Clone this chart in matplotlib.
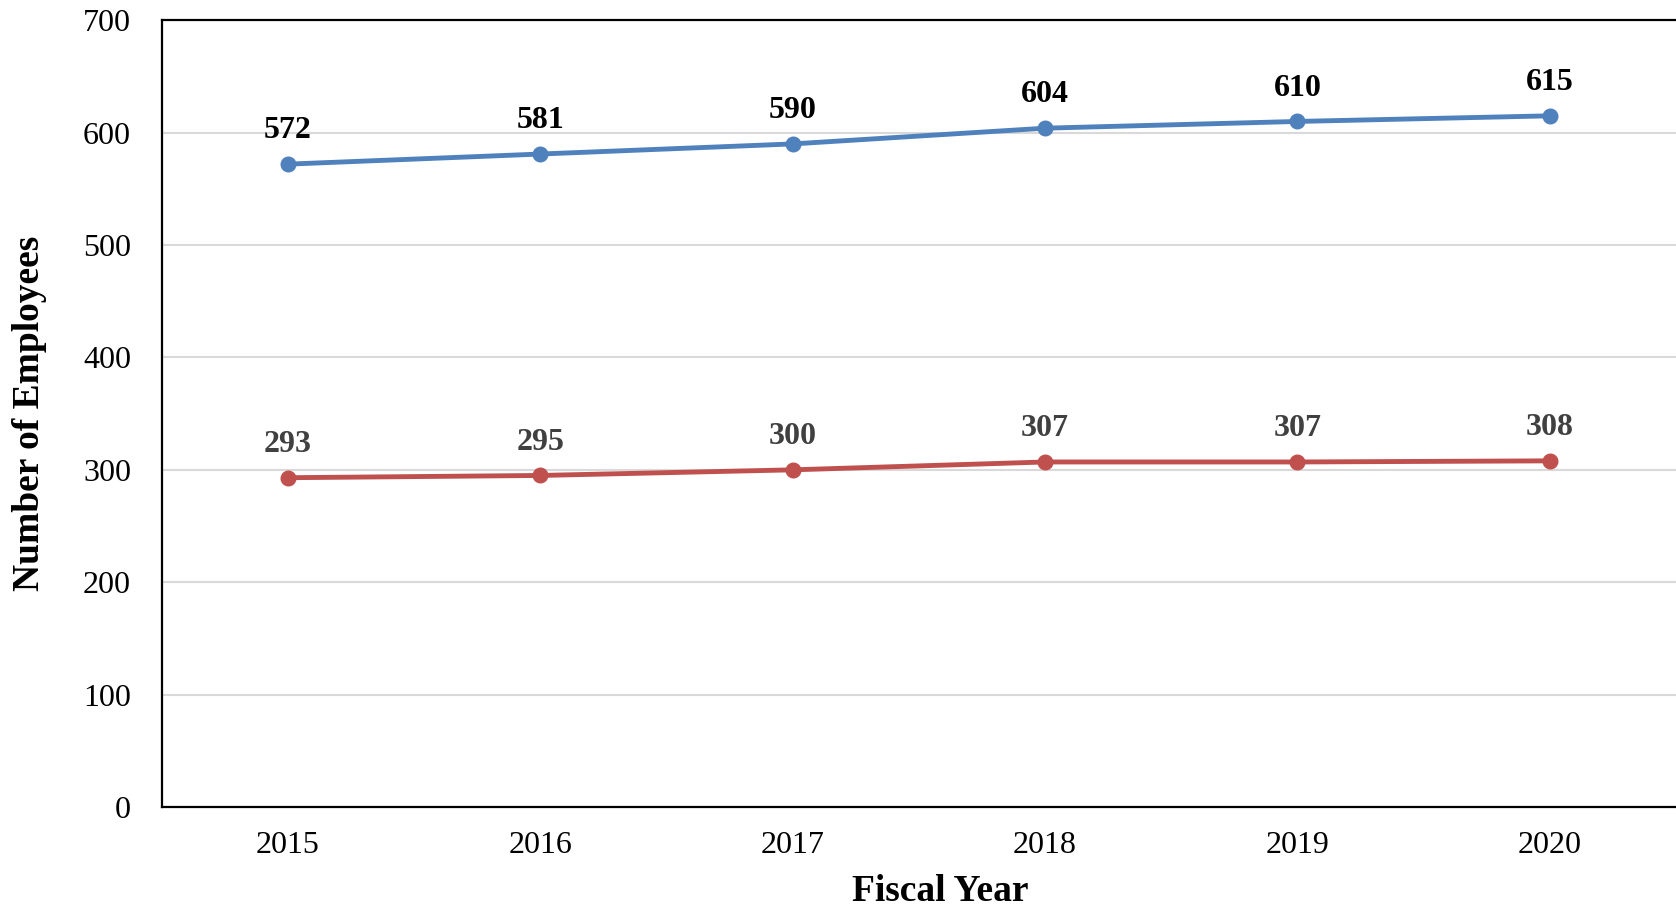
import matplotlib
matplotlib.use("Agg")
import matplotlib.pyplot as plt

years = ["2015", "2016", "2017", "2018", "2019", "2020"]
series_blue = [572, 581, 590, 604, 610, 615]
series_red = [293, 295, 300, 307, 307, 308]

plt.rcParams['font.family'] = ['Liberation Serif', 'DejaVu Serif']

fig = plt.figure(figsize=(16.76, 9.08), dpi=100)
ax = fig.add_axes([161.5/1676, 1-807/908, 1-161.5/1676, (807-20.3)/908])

x = list(range(len(years)))
ax.plot(x, series_blue, color='#4F81BD', lw=3.5, marker='o', ms=10.5, zorder=3, solid_capstyle='round')
ax.plot(x, series_red, color='#C0504D', lw=3.5, marker='o', ms=10.5, zorder=3, solid_capstyle='round')

for xi, v in zip(x, series_blue):
    ax.annotate(str(v), (xi, v), xytext=(0, 24), textcoords='offset points',
                ha='center', va='center', fontsize=23, fontweight='bold', color='black')
for xi, v in zip(x, series_red):
    ax.annotate(str(v), (xi, v), xytext=(0, 24), textcoords='offset points',
                ha='center', va='center', fontsize=23, fontweight='bold', color='#404040')

ax.set_xlim(-0.5, 5.5)
ax.set_ylim(0, 700)
ax.set_yticks(range(0, 701, 100))
ax.set_xticks(x)
ax.set_xticklabels(years)
ax.tick_params(axis='both', length=0, labelsize=23, colors='black')
ax.tick_params(axis='x', pad=17)
ax.tick_params(axis='y', pad=22)
ax.grid(axis='y', color='#D9D9D9', lw=1.5, zorder=0)
ax.set_axisbelow(True)
for s in ['left', 'bottom', 'top']:
    ax.spines[s].set_color('black')
    ax.spines[s].set_linewidth(1.6)
ax.spines['right'].set_visible(False)

ax.set_xlabel('Fiscal Year', fontsize=27, fontweight='bold')
ax.xaxis.set_label_coords(0.514, -0.085)
ax.set_ylabel('Number of Employees', fontsize=27, fontweight='bold', labelpad=26)

fig.savefig('out.png', dpi=100)
